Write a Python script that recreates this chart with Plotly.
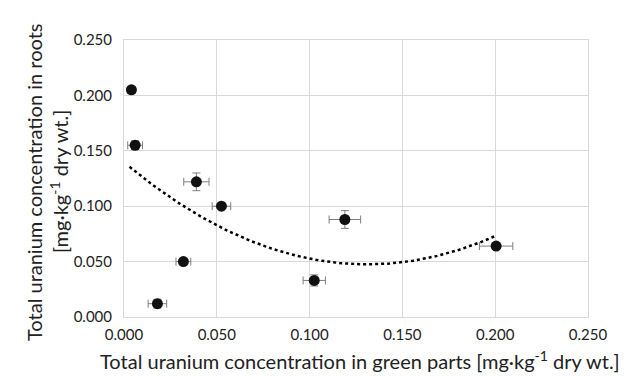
import numpy as np
import plotly.graph_objects as go

# Uranium concentration: green parts (x) vs roots (y), mg/kg dry wt.
green_parts = [0.004, 0.006, 0.039, 0.0525, 0.032, 0.018, 0.1025, 0.119, 0.2005]
roots = [0.205, 0.155, 0.122, 0.100, 0.050, 0.012, 0.033, 0.088, 0.064]
green_err = [0.002, 0.004, 0.0068, 0.005, 0.004, 0.005, 0.006, 0.0085, 0.009]
roots_err = [0.002, 0.004, 0.008, 0.002, 0.002, 0.004, 0.005, 0.008, 0.002]

x_ticks = [0.0, 0.05, 0.10, 0.15, 0.20, 0.25]
y_ticks = [0.0, 0.05, 0.10, 0.15, 0.20, 0.25]

# Second-order polynomial trendline
coef = np.polyfit(green_parts, roots, 2)
tx = np.linspace(min(green_parts) - 0.001, max(green_parts), 200)
ty = np.polyval(coef, tx)

fig = go.Figure()
fig.add_trace(go.Scatter(
    x=tx, y=ty, mode="lines",
    line=dict(color="black", width=2.5, dash="dot"),
    hoverinfo="skip", showlegend=False,
))
fig.add_trace(go.Scatter(
    x=green_parts, y=roots, mode="markers",
    marker=dict(color="#111111", size=11),
    error_x=dict(type="data", array=green_err, color="#7f7f7f", thickness=1, width=4),
    error_y=dict(type="data", array=roots_err, color="#7f7f7f", thickness=1, width=4),
    showlegend=False,
))

font = "Lato, 'Open Sans', sans-serif"
title_font = dict(family=font, size=20, color="#222222")
axis_common = dict(
    showgrid=True, gridcolor="#d9d9d9", gridwidth=1,
    zeroline=False, showline=True, linecolor="#d9d9d9", mirror=True,
    ticks="", tickformat=".3f",
    tickfont=dict(family=font, size=15, color="#222222"),
)

fig.update_layout(
    width=630, height=376,
    margin=dict(l=124, r=42, t=40, b=59),
    paper_bgcolor="white", plot_bgcolor="white",
    xaxis=dict(range=[0, 0.25], tickvals=x_ticks, ticklabelstandoff=4, **axis_common),
    yaxis=dict(range=[0, 0.25], tickvals=y_ticks, ticklabelstandoff=8, **axis_common),
    annotations=[
        dict(text="Total uranium concentration in green parts [mg·kg<sup>-1</sup> dry wt.]",
             xref="paper", yref="paper", x=(360 - 124) / 464, y=(317 - 360) / 277,
             yanchor="middle", showarrow=False, font=title_font),
        dict(text="Total uranium concentration in roots",
             xref="paper", yref="paper", x=(20 - 124) / 464, y=(317 - 182) / 277,
             textangle=-90, showarrow=False, font=title_font),
        dict(text="[mg·kg<sup>-1</sup> dry wt.]",
             xref="paper", yref="paper", x=(44 - 124) / 464, y=(317 - 182) / 277,
             textangle=-90, showarrow=False, font=title_font),
    ],
)

fig.write_html("out.html")
